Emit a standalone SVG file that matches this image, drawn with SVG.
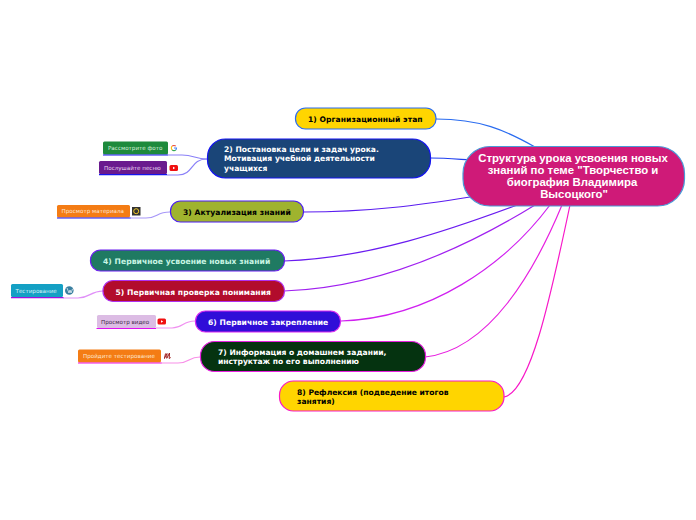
<svg xmlns="http://www.w3.org/2000/svg" width="696" height="520" viewBox="0 0 696 520">
<style>
text{font-family:"DejaVu Sans",Verdana,sans-serif}
.m{font-size:7.6px;font-weight:700}
.o{letter-spacing:.06px}
.s{font-size:5.6px}
.c{font-family:"Liberation Sans",Arial,sans-serif;font-size:11.4px;font-weight:700;fill:#fff;text-anchor:middle}
.w{fill:#fff}.k{fill:#000}
.l{fill:none;stroke-width:1.200}
.b{stroke-width:1.200}
</style>
<rect width="696" height="520" fill="#fff"/>
<g id="connectors">
<path class="l" stroke="#2a6cf0" d="M436 119C480 119 505 130 535 147"/>
<path class="l" stroke="#2040f0" d="M430 158C445 158 455 159 470 160"/>
<path class="l" stroke="#5a1cf0" d="M303 212C370 212 420 205 470 197"/>
<path class="l" stroke="#6a1cf0" d="M284 261C370 258 450 230 520 204"/>
<path class="l" stroke="#a020f0" d="M284 291C380 288 470 245 535 205"/>
<path class="l" stroke="#d020f0" d="M341 321C430 318 505 265 550 205"/>
<path class="l" stroke="#e820e0" d="M425 357C490 350 535 270 562 205"/>
<path class="l" stroke="#f818c8" d="M504 397C530 392 550 300 570 205"/>
<path class="l" stroke="#8a80f8" d="M168 155H182C194 155 195 159 207 159"/>
<path class="l" stroke="#8a80f8" d="M167 175H178C194 175 190 159 207 159"/>
<path class="l" stroke="#a898f8" d="M130 218H146C158 218 156 212 170 212"/>
<path class="l" stroke="#e090f8" d="M63 298H78C90 298 90 291 103 291"/>
<path class="l" stroke="#f090f0" d="M156 328H172C184 328 182 321 195 321"/>
<path class="l" stroke="#f890e8" d="M161 363H178C190 363 188 357 200 357"/>
</g>
<g id="n0"><rect x="463" y="146.500" width="221.500" height="59.500" rx="27" fill="#cf1a78" stroke="#4a9ad8" stroke-width="1.200"/>
<text class="c" x="573" y="162">Структура урока усвоения новых</text>
<text class="c" x="573" y="174">знаний по теме "Творчество и</text>
<text class="c" x="572" y="186">биография Владимира</text>
<text class="c" x="574" y="198">Высоцкого"</text></g>
<g id="n1"><rect class="b" x="295.500" y="108" width="140.500" height="21" rx="10" fill="#ffd500" stroke="#2a6cf0"/><text class="m o k" x="308" y="122">1) Организационный этап</text></g>
<g id="n2"><rect class="b" x="207.500" y="139" width="223" height="39" rx="18" fill="#1a4578" stroke="#1414f0"/><text class="m w" x="224" y="152">2) Постановка цели и задач урока.</text><text class="m w" x="224" y="161">Мотивация учебной деятельности</text><text class="m w" x="224" y="171">учащихся</text></g>
<g id="n3"><rect class="b" x="170.500" y="201" width="133" height="21" rx="10" fill="#9fb32e" stroke="#4a1cf0"/><text class="m o k" x="183" y="215">3) Актуализация знаний</text></g>
<g id="n4"><rect class="b" x="90.500" y="250" width="194" height="21" rx="10" fill="#1f7a62" stroke="#6a1cf0"/><text class="m o" fill="#c8f5e4" x="103" y="263.500">4) Первичное усвоение новых знаний</text></g>
<g id="n5"><rect class="b" x="103" y="280.500" width="181.500" height="21" rx="10" fill="#b20c2c" stroke="#b030f0"/><text class="m o w" x="115.500" y="294.500">5) Первичная проверка понимания</text></g>
<g id="n6"><rect class="b" x="195.500" y="311" width="145" height="21" rx="10" fill="#300ed8" stroke="#d828f0"/><text class="m o w" x="208" y="324.500">6) Первичное закрепление</text></g>
<g id="n7"><rect class="b" x="200.500" y="341.500" width="225" height="30" rx="14" fill="#053310" stroke="#e820e0"/><text class="m w" x="218" y="355">7) Информация о домашнем задании,</text><text class="m w" x="218" y="364">инструктаж по его выполнению</text></g>
<g id="n8"><rect class="b" x="279.500" y="381" width="224.500" height="30" rx="14" fill="#ffd500" stroke="#f818c8"/><text class="m k" x="297" y="395">8) Рефлексия (подведение итогов</text><text class="m k" x="297" y="404">занятия)</text></g>
<g id="c1"><rect x="103" y="141.500" width="65" height="13" rx="1.500" fill="#1e8a3c"/><path d="M103 155H168" stroke="#1414f0" stroke-width="1.200"/><text class="s" fill="#d8f0dc" x="108" y="150">Рассмотрите фото</text>
<g fill="none" stroke-width="1.100"><path d="M175.800 146.200a2.600 2.600 0 0 0-3.700 0" stroke="#ea4335"/><path d="M172.100 146.200a2.600 2.600 0 0 0 0 3.700" stroke="#fbbc05"/><path d="M172.100 149.900a2.600 2.600 0 0 0 3.700 0" stroke="#34a853"/><path d="M175.800 149.900a2.600 2.600 0 0 0 .7-1.900H174" stroke="#4285f4"/></g></g>
<g id="c2"><rect x="99" y="161" width="68" height="13" rx="1.500" fill="#6a1a8e"/><path d="M99 174.700H167" stroke="#1414f0" stroke-width="1.200"/><text class="s" fill="#e8d8f0" x="104" y="170">Послушайте песню</text>
<rect x="169.500" y="165" width="8.500" height="6" rx="1.500" fill="#f01010"/><path d="M173 166.700l2.200 1.300-2.200 1.300z" fill="#fff"/></g>
<g id="c3"><rect x="57" y="205" width="73" height="12.500" rx="1.500" fill="#f47c14"/><path d="M57 218H130.500" stroke="#1414f0" stroke-width="1.200"/><text class="s" fill="#fde6d0" x="61.500" y="213.300">Просмотр материала</text>
<rect x="132" y="207" width="8.500" height="8.500" fill="#333"/><circle cx="136.200" cy="211.200" r="2.500" fill="none" stroke="#f0c828" stroke-width="1"/></g>
<g id="c5"><rect x="11" y="284" width="52" height="13" rx="1.500" fill="#14a0c4"/><path d="M11 297.700H63.500" stroke="#a010e0" stroke-width="1.200"/><text class="s" fill="#d8f2f8" x="15.500" y="293">Тестирование</text>
<circle cx="69.300" cy="290.500" r="4.300" fill="#3a7fa0"/><path d="M67 288l2 5 1-3 1 3 1.500-4" fill="none" stroke="#fff" stroke-width=".7"/></g>
<g id="c6"><rect x="97" y="315" width="59" height="13" rx="1.500" fill="#dcbce4"/><path d="M96.500 328.500H156" stroke="#e010f0" stroke-width="1.200"/><text class="s" fill="#402848" x="101" y="323.500">Просмотр видео</text>
<rect x="157.500" y="318.500" width="8.500" height="6" rx="1.500" fill="#f01010"/><path d="M161 320.200l2.200 1.300-2.200 1.300z" fill="#fff"/></g>
<g id="c7"><rect x="78" y="349.500" width="83" height="13" rx="1.500" fill="#f47c14"/><path d="M78 363H161.500" stroke="#f010e0" stroke-width="1.200"/><text class="s" fill="#fde6d0" x="83" y="358">Пройдите тестирование</text>
<path d="M164 358.500l.5 0 1 -5M164.500 358l2.500-4.500-.3 5M167 358l2.500-5-.3 5.500 1.500-1" fill="none" stroke="#a02020" stroke-width="1"/></g>
</svg>
